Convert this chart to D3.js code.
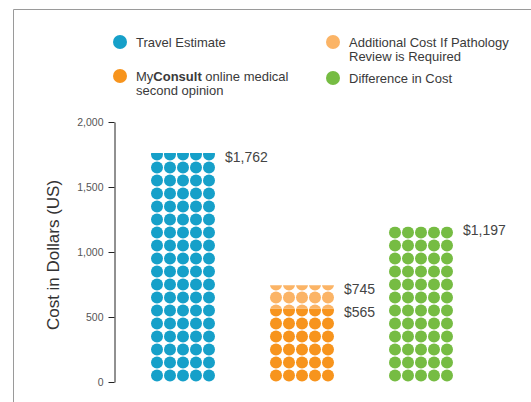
<!DOCTYPE html>
<html>
<head>
<meta charset="utf-8">
<script src="https://cdn.jsdelivr.net/npm/d3@7"></script>
<style>
  body { margin: 0; background: #fff; }
  svg { display: block; font-family: "Liberation Sans", Arial, sans-serif; }
  .axis text { fill: #555; font-size: 10.5px; }
  .axis path, .axis line { stroke: #222; }
</style>
</head>
<body>
<svg id="chart"></svg>
<script>
// bars (one column of dots each)
const barKeys = ['travel', 'myconsult', 'difference'];

// stacked pieces of each bar, in dollars
const segBar   = ['travel', 'myconsult', 'myconsult', 'difference'];
const segKey   = ['travel', 'myconsult', 'pathology', 'difference'];
const segFrom  = [0, 0, 565, 0];
const segTo    = [1762, 565, 745, 1197];

// value labels next to the bars
const labelBar   = ['travel', 'myconsult', 'myconsult', 'difference'];
const labelValue = [1762, 745, 565, 1197];

const yTicks = [0, 500, 1000, 1500, 2000];
const dollarsPerRow = 100;
const dotsPerRow = 5;

// legend
const legendKeys = ['travel', 'pathology', 'myconsult', 'difference'];
const legendLines = [
  [['Travel Estimate']],
  [['Additional Cost If Pathology'], ['Review is Required']],
  [['My', 'Consult', ' online medical'], ['second opinion']],
  [['Difference in Cost']]
];

const colors = {
  travel: '#16a0c9',
  myconsult: '#f7941d',
  pathology: '#fbb466',
  difference: '#76bc43'
};

const width = 531, height = 402;

const svg = d3.select('#chart')
    .attr('width', width)
    .attr('height', height);

// frame lines (top and left)
svg.append('path')
    .attr('d', `M13.5,${height} V9.5 H${width}`)
    .attr('fill', 'none')
    .attr('stroke', '#9a9a9a');

// scales
const yScale = d3.scaleLinear()
    .domain([0, 2000])
    .range([382, 122]);

const xScale = d3.scalePoint()
    .domain(barKeys)
    .range([183, 421]);

const rowStep = yScale(0) - yScale(dollarsPerRow);
const colScale = d3.scaleLinear()
    .domain([0, dotsPerRow - 1])
    .range([-2 * rowStep, 2 * rowStep]);

// y axis
const yAxis = d3.axisLeft(yScale)
    .tickValues(yTicks)
    .tickFormat(d3.format(','))
    .tickSize(6)
    .tickSizeOuter(0)
    .tickPadding(5);

svg.append('g')
    .attr('class', 'axis')
    .attr('transform', 'translate(114.5,0)')
    .call(yAxis);

svg.append('text')
    .attr('transform', `translate(59,${(yScale(0) + yScale(2000)) / 2 + 3}) rotate(-90)`)
    .attr('text-anchor', 'middle')
    .attr('fill', '#333')
    .attr('font-size', 17)
    .text('Cost in Dollars (US)');

// dot bars: every segment gets a clip between its from/to values
const segments = segKey.map((k, i) => ({
  id: i, bar: segBar[i], key: k, from: segFrom[i], to: segTo[i]
}));

const defs = svg.append('defs');
const marks = svg.append('g');

segments.forEach(s => {
  const cx = xScale(s.bar);
  const half = 2 * rowStep + 7;
  defs.append('clipPath')
      .attr('id', 'clip-' + s.id)
    .append('rect')
      .attr('x', cx - half)
      .attr('width', half * 2)
      .attr('y', yScale(s.to))
      .attr('height', yScale(s.from) - yScale(s.to));

  const firstRow = Math.floor(s.from / dollarsPerRow);
  const lastRow = Math.ceil(s.to / dollarsPerRow) - 1;
  const dots = [];
  for (let r = firstRow; r <= lastRow; r++) {
    for (let c = 0; c < dotsPerRow; c++) dots.push({ r, c });
  }

  marks.append('g')
      .attr('clip-path', `url(#clip-${s.id})`)
    .selectAll('circle')
    .data(dots)
    .join('circle')
      .attr('cx', d => cx + colScale(d.c))
      .attr('cy', d => yScale(d.r * dollarsPerRow + dollarsPerRow / 2))
      .attr('r', 6)
      .attr('fill', colors[s.key]);
});

// value labels
svg.append('g')
  .selectAll('text')
  .data(labelValue)
  .join('text')
    .attr('x', (d, i) => xScale(labelBar[i]) + 2 * rowStep + 16)
    .attr('y', d => yScale(d) + 4)
    .attr('dy', '0.35em')
    .attr('fill', '#444')
    .attr('font-size', 14)
    .text(d => '$' + d3.format(',')(d));

// legend
const legendX = [120, 333, 120, 333];
const legendY = [42, 42, 76, 78];

const legend = svg.append('g')
  .selectAll('g')
  .data(legendKeys)
  .join('g')
    .attr('transform', (d, i) => `translate(${legendX[i]},${legendY[i]})`);

legend.append('circle')
    .attr('r', 7)
    .attr('fill', d => colors[d]);

legend.each(function(d, i) {
  const t = d3.select(this).append('text')
      .attr('x', 16)
      .attr('fill', '#3a3a3a')
      .attr('font-size', 13);
  legendLines[i].forEach((line, j) => {
    line.forEach((part, k) => {
      const ts = t.append('tspan').text(part);
      if (k === 0) ts.attr('x', 16).attr('y', j * 14.5).attr('dy', '0.35em');
      if (part === 'Consult') ts.attr('font-weight', 'bold');
    });
  });
});
</script>
</body>
</html>
